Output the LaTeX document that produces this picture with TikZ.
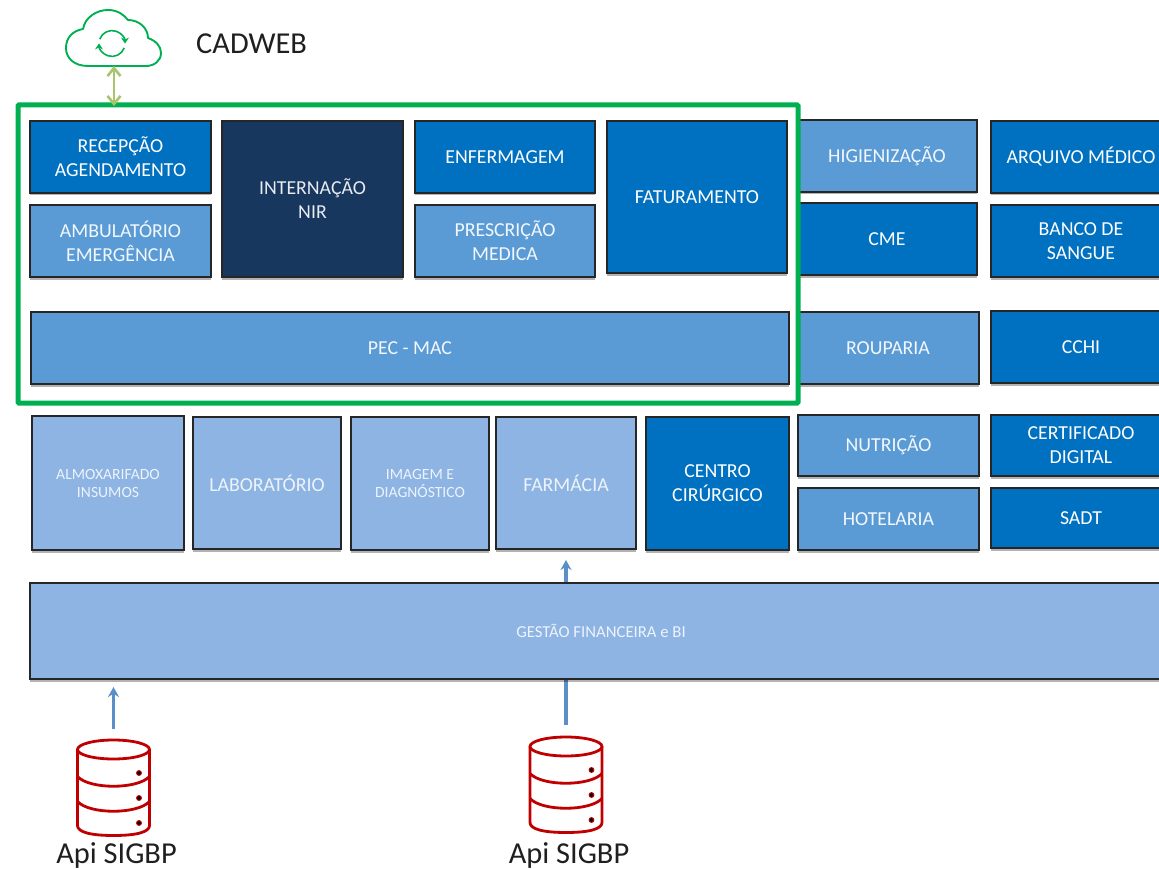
\documentclass[tikz,border=0pt]{standalone}
\usepackage{fontspec}
\setmainfont{Carlito}
\usetikzlibrary{arrows.meta,shadows,calc}
\definecolor{cblue}{HTML}{0070C0}
\definecolor{cmid}{HTML}{5B9BD5}
\definecolor{clight}{HTML}{8EB4E3}
\definecolor{cnavy}{HTML}{17375E}
\definecolor{cgreen}{HTML}{00B050}
\definecolor{cwire}{HTML}{00B050}
\definecolor{colive}{HTML}{A9C46C}
\definecolor{carrow}{HTML}{5B8FC7}
\definecolor{cdb}{HTML}{C00000}
\definecolor{ctextl}{HTML}{EDF3FB}
\tikzset{
  x=1pt,y=-1pt,
  blockbox/.style={draw=black!85,line width=1.4pt,inner sep=0pt,align=center,text=white,
    drop shadow={shadow xshift=0pt,shadow yshift=-2.5pt,opacity=.3,fill=black},
    font=\fontsize{19.8}{24}\selectfont},
  darkfill/.style={blockbox,fill=cblue},
  midfill/.style={blockbox,fill=cmid,text=white!92!cmid},
  lightfill/.style={blockbox,fill=clight,text=ctextl},
  navyfill/.style={blockbox,fill=cnavy,text=white!90!cnavy},
  smalltext/.style={font=\fontsize{15.6}{18}\selectfont},
  widetext/.style={font=\fontsize{16.7}{20}\selectfont},
  flowarrow/.style={draw=carrow,line width=3.4pt,-{Stealth[length=10pt,width=11pt]}},
  syncarrow/.style={draw=colive,line width=2.6pt,{Straight Barb[length=8pt,width=13pt]}-{Straight Barb[length=8pt,width=13pt]}},
  framebox/.style={draw=cgreen,line width=5pt,rounded corners=1pt,inner sep=0pt},
  cloudline/.style={draw=cwire,line width=1.9pt,line join=round},
  dbline/.style={draw=cdb,line width=2.8pt,line join=round},
  biglabel/.style={text=black!88,inner sep=0pt,font=\fontsize{30.4}{34}\selectfont},
  dbicon/.pic={
    \draw[dbline,fill=white] (-36,0) -- (-36,76) .. controls (-36,82) and (-25,86) .. (0,86)
       .. controls (25,86) and (36,82) .. (36,76) -- (36,0);
    \draw[dbline,fill=white] (0,0) ellipse [x radius=36,y radius=9.5];
    \draw[dbline] (-36,27) .. controls (-24,40) and (24,40) .. (36,27);
    \draw[dbline] (-36,52) .. controls (-24,65) and (24,65) .. (36,52);
    \foreach \yy in {23.5,48.5,73.5}{\filldraw[fill=black,draw=cdb,line width=1pt] (25.5,\yy) circle (2.4);}
  }
}
% x1,y1,x2,y2 -> node
\newcommand{\blk}[7]{\node[#1,minimum width={(#5-#3)*1pt},minimum height={(#6-#4)*1pt}] (#2) at ({(#3+#5)/2},{(#4+#6)/2}) {#7};}
\begin{document}
\begin{tikzpicture}
\useasboundingbox (0,0) rectangle (1159,869);
\fill[white] (0,0) rectangle (1159,869);

% coordinates of connector ends
\coordinate (cloudbottom) at (114,66);
\coordinate (frametop) at (114,106);
\coordinate (dbleft) at (113.5,729);
\coordinate (gestaoleft) at (113.5,687);
\coordinate (dbright) at (566,725);
\coordinate (farmbottom) at (566,560);

% arrow running behind the finance block
\draw[flowarrow] (dbright) -- (farmbottom);

% upper right column
\blk{midfill}{higien}{797}{120}{977}{192}{HIGIENIZAÇÃO}
\blk{darkfill}{cme}{797}{203}{977}{275}{CME}
\blk{midfill}{roup}{797}{312}{979}{384}{ROUPARIA}
\blk{darkfill}{arquivo}{991}{121}{1171}{193}{ARQUIVO MÉDICO}
\blk{darkfill}{banco}{991}{205}{1171}{277}{BANCO DE\\SANGUE}
\blk{darkfill}{cchi}{991}{311}{1171}{383}{CCHI}

% framed group
\blk{darkfill}{recep}{30}{121}{211}{193}{RECEPÇÃO\\AGENDAMENTO}
\blk{midfill}{amb}{30}{205}{211}{277}{AMBULATÓRIO\\EMERGÊNCIA}
\blk{navyfill}{intern}{222}{121}{403}{277}{INTERNAÇÃO\\NIR}
\blk{darkfill}{enf}{415}{121}{595}{193}{ENFERMAGEM}
\blk{midfill}{presc}{415}{205}{595}{277}{PRESCRIÇÃO\\MEDICA}
\blk{darkfill}{fat}{607}{121}{787}{273}{FATURAMENTO}
\blk{midfill}{pec}{31}{312}{789}{384}{PEC - MAC}

\node[framebox,minimum width=780pt,minimum height=298pt] (frame) at (408,254) {};

% lower row
\blk{lightfill,smalltext}{almox}{32}{416}{184}{550}{ALMOXARIFADO\\INSUMOS}
\blk{lightfill}{lab}{193}{417}{341}{549}{LABORATÓRIO}
\blk{lightfill,smalltext}{imagem}{351}{417}{489}{550}{IMAGEM E\\DIAGNÓSTICO}
\blk{lightfill}{farm}{496}{417}{636}{549}{FARMÁCIA}
\blk{darkfill}{centro}{646}{417}{789}{550}{CENTRO\\CIRÚRGICO}
\blk{midfill}{nutri}{798}{415}{979}{476}{NUTRIÇÃO}
\blk{midfill}{hotel}{798}{488}{979}{550}{HOTELARIA}
\blk{darkfill}{cert}{991}{415}{1171}{476}{CERTIFICADO\\DIGITAL}
\blk{darkfill}{sadt}{991}{488}{1171}{548}{SADT}

% finance block
\blk{lightfill,widetext}{gestao}{30}{583}{1172}{679}{GESTÃO FINANCEIRA e BI}

\draw[flowarrow] (dbleft) -- (gestaoleft);

% cloud
\draw[cloudline,fill=white] (88,66)
  .. controls (74,66) and (66,58) .. (66,48)
  .. controls (66,38) and (72,31) .. (83,29)
  .. controls (85,17) and (97,10) .. (108,10)
  .. controls (118,10) and (124,15) .. (128,20)
  .. controls (139,20) and (148,28) .. (148,38)
  .. controls (156,41) and (161,46) .. (161,53)
  .. controls (161,61) and (154,66) .. (146,66) -- cycle;
\draw[cwire,line width=1.6pt,-{Stealth[length=6pt,width=8pt]}] (99.8,39.1) arc[start angle=200,end angle=360,radius=13];
\draw[cwire,line width=1.6pt,-{Stealth[length=6pt,width=8pt]}] (124.2,47.9) arc[start angle=20,end angle=180,radius=13];
\node[biglabel,anchor=west] (cadweb) at (196,44) {CADWEB};

\draw[syncarrow] (cloudbottom) -- (frametop);

% databases
\pic at (113.5,749.5) {dbicon};
\pic at (566,746.5) {dbicon};
\node[biglabel] (api1) at (116.5,855.5) {Api SIGBP};
\node[biglabel] (api2) at (569,855.5) {Api SIGBP};
\end{tikzpicture}
\end{document}
